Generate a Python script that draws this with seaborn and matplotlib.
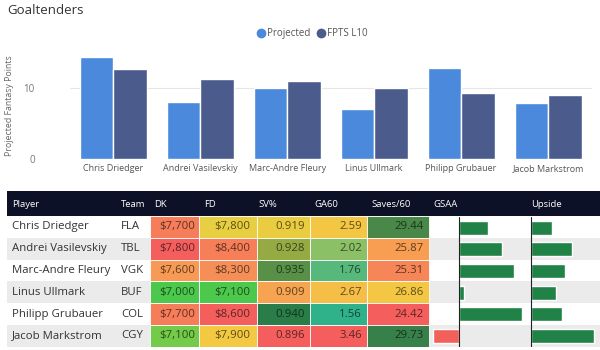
import pandas as pd
import matplotlib.pyplot as plt
import numpy as np
import seaborn as sns
from matplotlib.colors import LinearSegmentedColormap, to_rgb
from matplotlib.patches import Rectangle
from matplotlib.lines import Line2D

# dados
players = ['Chris Driedger', 'Andrei Vasilevskiy', 'Marc-Andre Fleury',
           'Linus Ullmark', 'Philipp Grubauer', 'Jacob Markstrom']
projected = [14.4, 8.1, 10.0, 7.0, 12.9, 7.9]
fpts_l10 = [12.7, 11.3, 11.0, 10.0, 9.3, 9.1]
teams = ['FLA', 'TBL', 'VGK', 'BUF', 'COL', 'CGY']
dk = [7700, 7800, 7600, 7000, 7700, 7100]
fd = [7800, 8400, 8300, 7100, 8600, 7900]
sv_pct = [0.919, 0.928, 0.935, 0.909, 0.940, 0.896]
ga60 = [2.59, 2.02, 1.76, 2.67, 1.56, 3.46]
saves60 = [29.44, 25.87, 25.31, 26.86, 24.42, 29.73]
gsaa = [2.9, 4.3, 5.5, 0.5, 6.3, -2.6]
upside = [2.1, 4.1, 3.4, 2.5, 3.1, 6.3]

sns.set_style('white')
plt.rcParams['font.family'] = ['Open Sans', 'DejaVu Sans']

fig = plt.figure(figsize=(6, 3.5), dpi=100)

# grafico de barras
ax = fig.add_axes([0.116, 0.5466, 0.87, 0.302])
df = pd.DataFrame({'Player': players * 2,
                   'Points': projected + fpts_l10,
                   'Series': ['Projected'] * 6 + ['FPTS L10'] * 6})
cores = {'Projected': '#4a89dc', 'FPTS L10': '#4b5b8c'}
sns.barplot(data=df, x='Player', y='Points', hue='Series', palette=cores,
            width=0.77, gap=0, saturation=1, legend=False, ax=ax)
ax.set_ylim(0, 15)
ax.set_yticks([0, 10])
ax.yaxis.grid(True, color='#e6e6e6', lw=0.8)
ax.set_axisbelow(True)
sns.despine(ax=ax, left=True, bottom=True)
ax.set_xlabel('')
ax.set_ylabel('')
ax.tick_params(axis='y', length=0, pad=25, labelsize=7, labelcolor='#777777')
ax.tick_params(axis='x', length=0, pad=4, labelsize=6.5, labelcolor='#555555')

fig.text(7 / 600, 1 - 10 / 350, 'Goaltenders', fontsize=9.5, color='#333333', va='center')
fig.text(10 / 600, 1 - 106 / 350, 'Projected Fantasy Points', rotation=90,
         fontsize=6.3, color='#666666', ha='center', va='center')
handles = [Line2D([], [], marker='o', ls='', color=cores[k], markersize=6) for k in cores]
fig.legend(handles, list(cores), loc='center', bbox_to_anchor=(0.52, 0.903), ncol=2,
           frameon=False, fontsize=7, labelcolor='#555555', handletextpad=0.1,
           columnspacing=0.6, handlelength=1)

# tabela
tax = fig.add_axes([0, 0.0094, 1, 0.445])
tax.set_xlim(0, 600)
tax.set_ylim(6, -1.15)
tax.axis('off')

tax.add_patch(Rectangle((7, -1.15), 593, 1.15, color='#0c1128', lw=0))
for i in range(6):
    if i % 2:
        tax.add_patch(Rectangle((7, i), 593, 1, color='#ebebeb', lw=0))
    tax.text(12, i + 0.5, players[i], fontsize=8.2, color='#333333', va='center')
    tax.text(121, i + 0.5, teams[i], fontsize=8.2, color='#333333', va='center')

headers = [('Player', 12), ('Team', 121), ('DK', 154), ('FD', 204), ('SV%', 258),
           ('GA60', 314), ('Saves/60', 371), ('GSAA', 433), ('Upside', 531)]
for h, x in headers:
    tax.text(x, -0.55, h, fontsize=6.8, color='white', va='center')


def escala(topo):
    return LinearSegmentedColormap.from_list('', [(0, '#f45f5e'), (0.25, '#f79a55'),
                                                  (0.5, '#f2d040'), (1, topo)])


colunas = [
    (dk, 150, 199, 195, lambda v: f'${v:,.0f}', True, '#4cc84c'),
    (fd, 199, 256.7, 250, lambda v: f'${v:,.0f}', True, '#4cc84c'),
    (sv_pct, 256.7, 310, 305, lambda v: f'{v:.3f}', False, '#2a7d48'),
    (ga60, 310, 366.7, 362, lambda v: f'{v:.2f}', True, '#2fb28a'),
    (saves60, 366.7, 429, 424, lambda v: f'{v:.2f}', False, '#37804a'),
]
for vals, x0, x1, xt, fmt, inverso, topo in colunas:
    arr = np.array(vals, dtype=float)
    norm = (arr - arr.min()) / (arr.max() - arr.min())
    if inverso:
        norm = 1 - norm
    cmap = escala(topo)
    for i, v in enumerate(vals):
        c = np.array(to_rgb(cmap(norm[i])))
        tax.add_patch(Rectangle((x0, i), x1 - x0, 1, facecolor=c, edgecolor='white', lw=0.6))
        tax.text(xt, i + 0.5, fmt(v), fontsize=8.2, color=c * 0.38, ha='right', va='center')

# barras GSAA e Upside
for vals, x0, w, lim in [(gsaa, 429, 101, (-3.0, 7.1)), (upside, 530, 70, (-0.1, 6.9))]:
    bax = fig.add_axes([x0 / 600, 0.0094, w / 600, 130 / 350])
    bax.patch.set_alpha(0)
    sns.barplot(x=vals, y=players, hue=[v < 0 for v in vals], dodge=False,
                palette={False: '#218247', True: '#f2605c'}, width=0.65, saturation=1,
                legend=False, ax=bax, orient='h')
    bax.axvline(0, color='#222222', lw=0.8)
    bax.set_xlim(*lim)
    bax.set_ylim(5.5, -0.5)
    bax.axis('off')

fig.savefig('out.png', dpi=100)
